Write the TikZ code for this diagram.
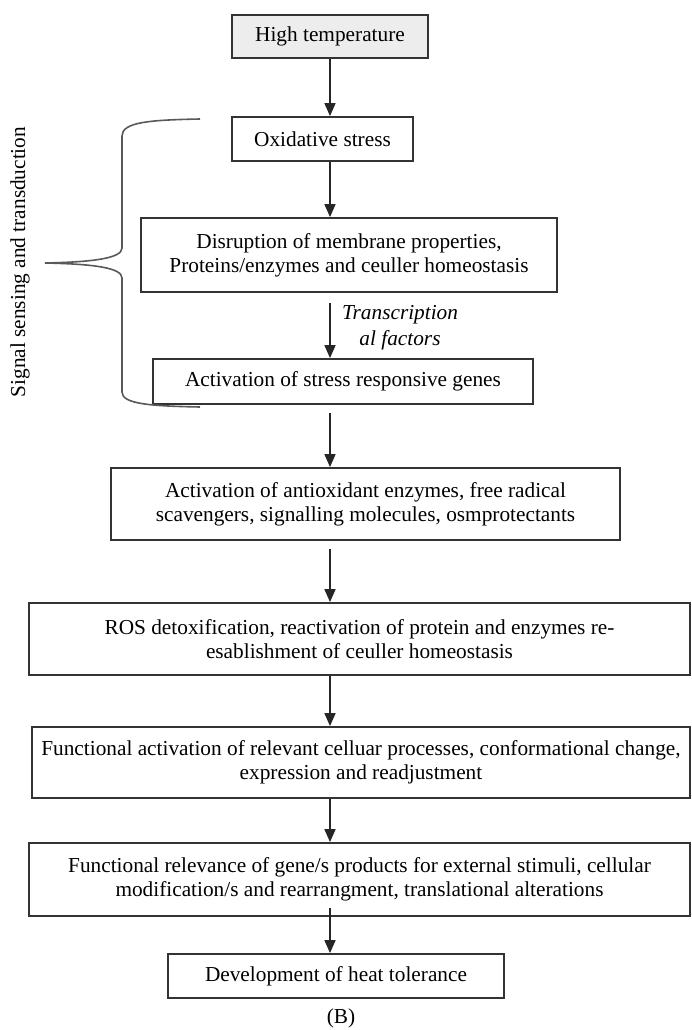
\documentclass[tikz,border=0pt]{standalone}
\usepackage{fontspec}
\setmainfont{Liberation Serif}
\usepackage{tikz}
\usetikzlibrary{arrows.meta}

\begin{document}
\begin{tikzpicture}[x=1pt, y=-1pt,
	flowbox/.style={draw=black!80, line width=1.8pt, inner sep=0pt, align=center, font=\fontsize{21.3}{24}\selectfont},
	flowarrow/.style={line width=1.6pt, black!85, -{Stealth[inset=0pt, length=13pt, width=11pt]}},
	brace/.style={line width=1.6pt, black!65}]

	\useasboundingbox (0,0) rectangle (692,1030);


	\node[flowbox, fill=black!7, minimum width=196pt, minimum height=43pt] (hightemp) at (330,36.5) {High temperature};
	\node[flowbox, minimum width=181pt, minimum height=44pt] (oxid) at (322.5,139) {Oxidative stress};
	\node[flowbox, minimum width=416pt, minimum height=74pt] (disrupt) at (349,255) {Disruption of membrane properties,\\Proteins/enzymes and ceuller homeostasis};
	\node[flowbox, minimum width=380pt, minimum height=45pt] (genes) at (343,381.5) {Activation of stress responsive genes};
	\node[flowbox, minimum width=509pt, minimum height=72pt] (antiox) at (365.5,504) {Activation of antioxidant enzymes, free radical\\scavengers, signalling molecules, osmprotectants};
	\node[flowbox, minimum width=661pt, minimum height=72pt] (ros) at (359.5,639) {ROS detoxification, reactivation of protein and enzymes re-\\esablishment of ceuller homeostasis};
	\node[flowbox, minimum width=658pt, minimum height=71pt] (funcact) at (361,762.5) {Functional activation of relevant celluar processes, conformational change,\\expression and readjustment};
	\node[flowbox, minimum width=661pt, minimum height=73pt] (funcrel) at (359.5,879.5) {Functional relevance of gene/s products for external stimuli, cellular\\modification/s and rearrangment, translational alterations};
	\node[flowbox, minimum width=336pt, minimum height=44pt] (develop) at (336,976) {Development of heat tolerance};

	\node[font=\fontsize{21.3}{24}\selectfont, inner sep=0pt] (panel) at (341,1018) {(B)};
	\node[font=\fontsize{21.3}{26}\selectfont\itshape, align=center, inner sep=0pt] (tf) at (400,328) {Transcription\\al factors};


	\coordinate (axis) at (330,0);
	\foreach \a/\b/\g in {hightemp/oxid/0, oxid/disrupt/0, disrupt/genes/10, genes/antiox/8, antiox/ros/8, ros/funcact/0, funcact/funcrel/0, funcrel/develop/-9}
		\draw[flowarrow] ([yshift=-\g pt]axis |- \a.south) -- (axis |- \b.north);


	\draw[brace] (200,119) .. controls (150,120) and (122,122) .. (122,136) -- (122,248) .. controls (122,258) and (95,262) .. (45,263) .. controls (95,264) and (122,268) .. (122,278) -- (122,392) .. controls (122,404) and (150,406) .. (200,407);
	\node[font=\fontsize{21.3}{24}\selectfont, rotate=90, inner sep=0pt] (signal) at (20,262) {Signal sensing and transduction};


\end{tikzpicture}
\end{document}
